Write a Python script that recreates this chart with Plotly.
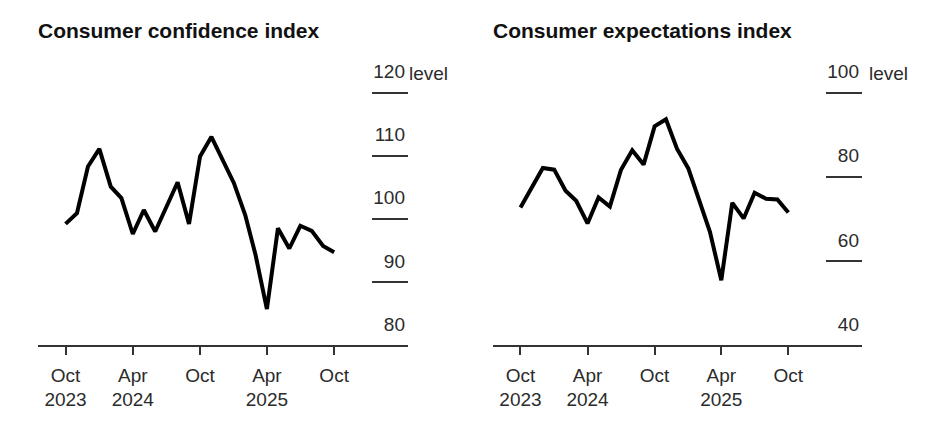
import plotly.graph_objects as go
import pandas as pd

months = pd.date_range("2023-10-01", "2025-10-01", freq="MS")

confidence = [99.2, 100.9, 108.3, 111.1, 105.1, 103.3, 97.6, 101.4, 98.0, 101.9,
              105.8, 99.2, 109.9, 113.0, 109.4, 105.7, 100.6, 94.3, 85.7, 98.5,
              95.3, 98.9, 98.1, 95.7, 94.7]
expectations = [72.7, 77.5, 82.1, 81.7, 76.7, 74.3, 68.9, 75.1, 72.9, 81.6,
                86.3, 82.9, 92.0, 93.7, 86.7, 82.0, 74.4, 66.9, 55.4, 73.8,
                70.1, 76.2, 74.8, 74.6, 71.5]

tick_dates = ["2023-10-01", "2024-04-01", "2024-10-01", "2025-04-01", "2025-10-01"]
tick_text = ["Oct<br>2023", "Apr<br>2024", "Oct", "Apr<br>2025", "Oct"]

conf_ticks = [80, 90, 100, 110, 120]
exp_ticks = [40, 60, 80, 100]

titles = ["Consumer confidence index", "Consumer expectations index"]

FONT = "Liberation Sans, Arial, sans-serif"
LABEL = "#2b2b2b"
x_range = ["2023-07-18", "2026-04-20"]

fig = go.Figure()
fig.add_trace(go.Scatter(x=months, y=confidence, mode="lines",
                         line=dict(color="#000000", width=4), xaxis="x", yaxis="y",
                         showlegend=False, hoverinfo="skip"))
fig.add_trace(go.Scatter(x=months, y=expectations, mode="lines",
                         line=dict(color="#000000", width=4), xaxis="x2", yaxis="y2",
                         showlegend=False, hoverinfo="skip"))

# page renders figure offset by 8px; bottom at 337, 120/100 line at 84.7, extra headroom
H = 445
bottom_px, top_px = 337.0, 84.7
extra = 45.0
dom_y = [(H - bottom_px) / H, (H - (top_px - extra)) / H]
conf_pp = (bottom_px - top_px) / 40.0
exp_pp = (bottom_px - top_px) / 60.0

xcommon = dict(type="date", range=x_range, tickvals=tick_dates, ticktext=tick_text,
               showgrid=False, zeroline=False, showline=True, linecolor="#333333",
               linewidth=1.5, ticks="outside", ticklen=8, tickwidth=1.5,
               tickcolor="#333333", ticklabelstandoff=4,
               tickfont=dict(family=FONT, size=19, color=LABEL),
               fixedrange=True)
ycommon = dict(side="right", showgrid=False, zeroline=False, showline=False,
               ticks="inside", ticklen=36, tickwidth=1.5, tickcolor="#333333",
               ticklabelposition="inside top", ticklabelshift=-7,
               tickfont=dict(family=FONT, size=19, color=LABEL), fixedrange=True)

fig.update_layout(
    width=938, height=445,
    margin=dict(l=0, r=0, t=0, b=0),
    paper_bgcolor="white", plot_bgcolor="white",
    xaxis=dict(domain=[30/938, 400/938], anchor="y", **xcommon),
    yaxis=dict(domain=dom_y, anchor="x", range=[80, 120 + extra / conf_pp],
               tickvals=conf_ticks, **ycommon),
    xaxis2=dict(domain=[485/938, 854/938], anchor="y2", **xcommon),
    yaxis2=dict(domain=dom_y, anchor="x2", range=[40, 100 + extra / exp_pp],
                tickvals=exp_ticks, **ycommon),
)

annotations = []
for i, t in enumerate(titles):
    xr = "x domain" if i == 0 else "x2 domain"
    annotations.append(dict(text="<b>" + t + "</b>", xref=xr, x=0, xanchor="left",
                            xshift=-2,
                            yref="paper", y=(H - 23) / H, yanchor="middle", showarrow=False,
                            font=dict(family=FONT, size=21, color="#111111")))
annotations.append(dict(text="level", xref="x domain", x=1, xanchor="left", xshift=-1,
                        yref="y", y=conf_ticks[-1], yanchor="middle", yshift=19,
                        showarrow=False, font=dict(family=FONT, size=19, color=LABEL)))
annotations.append(dict(text="level", xref="x2 domain", x=1, xanchor="left", xshift=5,
                        yref="y2", y=exp_ticks[-1], yanchor="middle", yshift=19,
                        showarrow=False, font=dict(family=FONT, size=19, color=LABEL)))
fig.update_layout(annotations=annotations)

fig.write_html("out.html")
